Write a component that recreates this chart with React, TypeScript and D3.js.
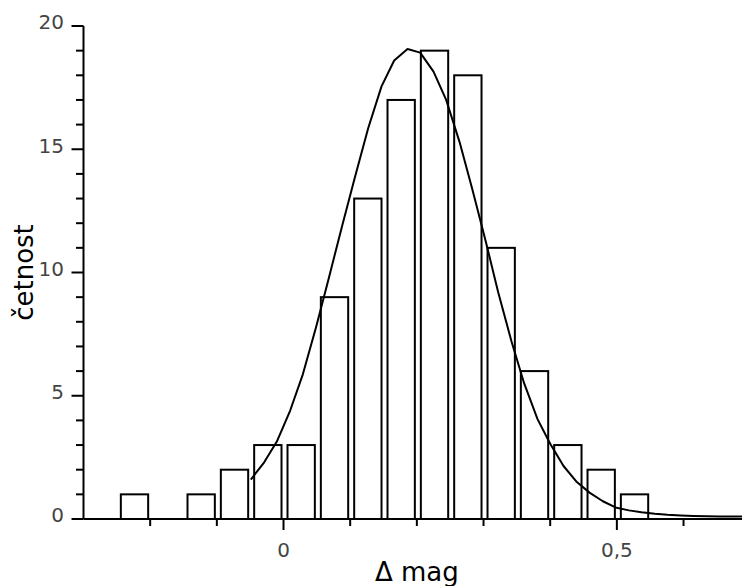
import React from "react";
import * as d3 from "d3";

// Histogram bins (left edges), width 0.05
const binStarts = [-0.25, -0.2, -0.15, -0.1, -0.05, 0, 0.05, 0.1, 0.15, 0.2, 0.25, 0.3, 0.35, 0.4, 0.45, 0.5];
const counts = [1, 0, 1, 2, 3, 3, 9, 13, 17, 19, 18, 11, 6, 3, 2, 1];
const binWidth = 0.05;

// Fitted curve
const curveX = [-0.049, -0.029, -0.01, 0.01, 0.029, 0.049, 0.068, 0.088, 0.107, 0.127, 0.147, 0.166, 0.186, 0.205, 0.225, 0.244, 0.264, 0.283, 0.303, 0.322, 0.342, 0.361, 0.381, 0.4, 0.42, 0.44, 0.459, 0.479, 0.498, 0.518, 0.537, 0.557, 0.576, 0.596, 0.615, 0.635, 0.654, 0.674, 0.693];
const curveY = [1.6, 2.3, 3.14, 4.4, 5.87, 7.8, 9.78, 11.9, 13.85, 15.85, 17.55, 18.6, 19.07, 18.92, 18.15, 17.0, 15.3, 13.4, 11.3, 9.2, 7.2, 5.5, 4.05, 3.05, 2.15, 1.5, 1.07, 0.72, 0.47, 0.35, 0.27, 0.21, 0.17, 0.14, 0.12, 0.11, 0.1, 0.1, 0.1];

const xMajorTicks = [0, 0.5];
const xMajorLabels = ["0", "0,5"];
const xMinorTicks = [-0.2, -0.1, 0.1, 0.2, 0.3, 0.4, 0.6];
const yMajorTicks = [0, 5, 10, 15, 20];
const yMinorTicks = [1, 2, 3, 4, 6, 7, 8, 9, 11, 12, 13, 14, 16, 17, 18, 19];

const xLabel = "Δ mag";
const yLabel = "četnost";

export default function App() {
  const W = 742;
  const H = 586;
  const x = d3.scaleLinear().domain([-0.3, 0.7]).range([83.5, 750.2]);
  const y = d3.scaleLinear().domain([0, 20]).range([519, 26]);
  const font = "'DejaVu Sans', sans-serif";
  const line = d3
    .line<number>()
    .x((_, i) => x(curveX[i]))
    .y((d) => y(d));
  const axisY = y(0);
  const axisX = x(-0.3);

  return (
    <svg
      width={W}
      height={H}
      style={{ position: "absolute", left: 0, top: 0, background: "#fff" }}
    >
      <defs>
        <clipPath id="plotclip">
          <rect x={0} y={0} width={W} height={H} />
        </clipPath>
      </defs>
      <g fill="none" stroke="#000" strokeWidth={2}>
        {binStarts.map((b, i) =>
          counts[i] > 0 ? (
            <rect
              key={i}
              x={x(b) + 4}
              y={y(counts[i])}
              width={x(b + binWidth) - x(b) - 6}
              height={y(0) - y(counts[i])}
              fill="#fff"
            />
          ) : null
        )}
      </g>
      <path
        d={line(curveY) || ""}
        fill="none"
        stroke="#000"
        strokeWidth={2}
        strokeLinejoin="round"
        clipPath="url(#plotclip)"
      />
      {/* axes */}
      <g stroke="#000" strokeWidth={2}>
        <line x1={axisX} x2={W} y1={axisY} y2={axisY} />
        <line x1={axisX} x2={axisX} y1={y(20)} y2={axisY} />
        {xMajorTicks.map((t) => (
          <line key={"xM" + t} x1={x(t)} x2={x(t)} y1={axisY} y2={axisY + 11} />
        ))}
        {xMinorTicks.map((t) => (
          <line key={"xm" + t} x1={x(t)} x2={x(t)} y1={axisY} y2={axisY + 7} />
        ))}
        {yMajorTicks.map((t) => (
          <line key={"yM" + t} x1={axisX - 12} x2={axisX} y1={y(t)} y2={y(t)} />
        ))}
        {yMinorTicks.map((t) => (
          <line key={"ym" + t} x1={axisX - 7.5} x2={axisX} y1={y(t)} y2={y(t)} />
        ))}
      </g>
      <g fontFamily={font} fontSize={20} fill="#444">
        {xMajorTicks.map((t, i) => (
          <text key={"xl" + t} x={x(t)} y={557} textAnchor="middle">
            {xMajorLabels[i]}
          </text>
        ))}
        {yMajorTicks.map((t) => (
          <text key={"yl" + t} x={64} y={y(t) + 3.3} textAnchor="end">
            {String(t)}
          </text>
        ))}
      </g>
      <text
        x={x(0.2)}
        y={581}
        textAnchor="middle"
        fontFamily={font}
        fontSize={26}
        fill="#000"
      >
        {xLabel}
      </text>
      <text
        transform={`translate(33, ${(y(0) + y(20)) / 2}) rotate(-90)`}
        textAnchor="middle"
        fontFamily={font}
        fontSize={26}
        fill="#000"
      >
        {yLabel}
      </text>
    </svg>
  );
}
